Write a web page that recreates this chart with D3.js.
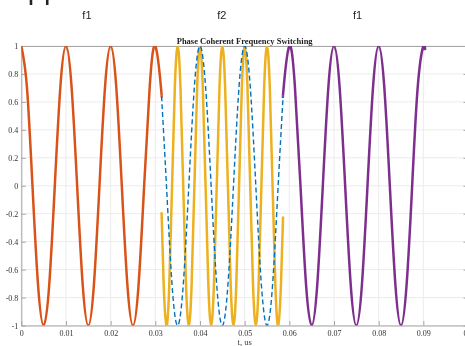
<!DOCTYPE html>
<html>
<head>
<meta charset="utf-8">
<script src="https://cdn.jsdelivr.net/npm/d3@7"></script>
<style>
  body { margin: 0; background: #fff; overflow: hidden; }
  svg { display: block; will-change: transform; }
</style>
</head>
<body>
<svg id="chart" width="465" height="346"></svg>
<script>
// tick values and labels
var xTicks = [0, 0.01, 0.02, 0.03, 0.04, 0.05, 0.06, 0.07, 0.08, 0.09, 0.1];
var xTickLabels = ["0", "0.01", "0.02", "0.03", "0.04", "0.05", "0.06", "0.07", "0.08", "0.09", "0.1"];
var yTicks = [-1, -0.8, -0.6, -0.4, -0.2, 0, 0.2, 0.4, 0.6, 0.8, 1];
var yTickLabels = ["-1", "-0.8", "-0.6", "-0.4", "-0.2", "0", "0.2", "0.4", "0.6", "0.8", "1"];

// segment labels over the plot
var segLabels = ["f1", "f2", "f1"];
var segLabelT = [0.0147, 0.0449, 0.0753];

// f1 before the switch (t, value)
var f1First = [[0, 1], [0.00125, 0.71], [0.0025, 0], [0.00375, -0.71], [0.005, -1], [0.00625, -0.71], [0.0075, 0], [0.00875, 0.71],
  [0.01, 1], [0.01125, 0.71], [0.0125, 0], [0.01375, -0.71], [0.015, -1], [0.01625, -0.71], [0.0175, 0], [0.01875, 0.71],
  [0.02, 1], [0.02125, 0.71], [0.0225, 0], [0.02375, -0.71], [0.025, -1], [0.02625, -0.71], [0.0275, 0], [0.02875, 0.71],
  [0.03, 1], [0.03125, 0.71], [0.0314, 0.64]];

// f2 while switched
var f2Mid = [[0.0314, -0.19], [0.031875, -0.71], [0.0325, -1], [0.033125, -0.71], [0.03375, 0], [0.034375, 0.71],
  [0.035, 1], [0.035625, 0.71], [0.03625, 0], [0.036875, -0.71], [0.0375, -1], [0.038125, -0.71], [0.03875, 0], [0.039375, 0.71],
  [0.04, 1], [0.040625, 0.71], [0.04125, 0], [0.041875, -0.71], [0.0425, -1], [0.043125, -0.71], [0.04375, 0], [0.044375, 0.71],
  [0.045, 1], [0.045625, 0.71], [0.04625, 0], [0.046875, -0.71], [0.0475, -1], [0.048125, -0.71], [0.04875, 0], [0.049375, 0.71],
  [0.05, 1], [0.050625, 0.71], [0.05125, 0], [0.051875, -0.71], [0.0525, -1], [0.053125, -0.71], [0.05375, 0], [0.054375, 0.71],
  [0.055, 1], [0.055625, 0.71], [0.05625, 0], [0.056875, -0.71], [0.0575, -1], [0.058125, -0.71], [0.0586, -0.22]];

// f1 reference kept running (dashed)
var f1Ref = [[0.0314, 0.64], [0.0325, 0], [0.03375, -0.71], [0.035, -1], [0.03625, -0.71], [0.0375, 0], [0.03875, 0.71],
  [0.04, 1], [0.04125, 0.71], [0.0425, 0], [0.04375, -0.71], [0.045, -1], [0.04625, -0.71], [0.0475, 0], [0.04875, 0.71],
  [0.05, 1], [0.05125, 0.71], [0.0525, 0], [0.05375, -0.71], [0.055, -1], [0.05625, -0.71], [0.0575, 0], [0.0586, 0.64]];

// f1 after switching back
var f1Last = [[0.0586, 0.64], [0.05875, 0.71], [0.06, 1], [0.06125, 0.71], [0.0625, 0], [0.06375, -0.71], [0.065, -1], [0.06625, -0.71], [0.0675, 0], [0.06875, 0.71],
  [0.07, 1], [0.07125, 0.71], [0.0725, 0], [0.07375, -0.71], [0.075, -1], [0.07625, -0.71], [0.0775, 0], [0.07875, 0.71],
  [0.08, 1], [0.08125, 0.71], [0.0825, 0], [0.08375, -0.71], [0.085, -1], [0.08625, -0.71], [0.0875, 0], [0.08875, 0.71],
  [0.09, 1], [0.0904, 0.97]];

(function() {
  var svg = d3.select("#chart");
  var pLeft = 21.3, pRight = 468, pTop = 46, pBottom = 325.5;

  var x = d3.scaleLinear().domain([0, 0.1]).range([pLeft, pRight]);
  var y = d3.scaleLinear().domain([-1, 1]).range([pBottom, pTop]);

  // cut-off heading above the figure
  svg.append("text")
    .attr("x", 8.5).attr("y", -1)
    .style("font-family", "'Liberation Sans', Arial, sans-serif")
    .style("font-size", "29px")
    .attr("fill", "#222")
    .text("Approach");

  // segment labels
  svg.selectAll(".seg").data(segLabels).enter().append("text")
    .attr("class", "seg")
    .attr("x", function(d, i) { return x(segLabelT[i]); })
    .attr("y", 19.3)
    .attr("text-anchor", "middle")
    .style("font-family", "'Liberation Sans', Arial, sans-serif")
    .style("font-size", "11px")
    .attr("fill", "#222")
    .text(function(d) { return d; });

  svg.append("defs").append("clipPath").attr("id", "plotclip")
    .append("rect").attr("x", pLeft).attr("y", pTop).attr("width", pRight - pLeft).attr("height", pBottom - pTop);

  // grid
  var grid = svg.append("g").attr("class", "grid");
  grid.selectAll(".gx").data(xTicks).enter().append("line")
    .attr("x1", function(d) { return x(d); }).attr("x2", function(d) { return x(d); })
    .attr("y1", pTop).attr("y2", pBottom)
    .attr("stroke", "#ececec").attr("stroke-width", 1);
  grid.selectAll(".gy").data(yTicks).enter().append("line")
    .attr("x1", pLeft).attr("x2", pRight)
    .attr("y1", function(d) { return y(d); }).attr("y2", function(d) { return y(d); })
    .attr("stroke", "#ececec").attr("stroke-width", 1);

  // axes (ticks inward, box all round)
  var tickFont = "'Liberation Serif', 'Times New Roman', serif";
  var xAxis = svg.append("g").attr("transform", "translate(0," + pBottom + ")")
    .call(d3.axisBottom(x).tickValues(xTicks).tickSizeInner(-4.5).tickSizeOuter(0).tickPadding(5)
      .tickFormat(function(d, i) { return xTickLabels[i]; }));
  var xTop = svg.append("g").attr("transform", "translate(0," + pTop + ")")
    .call(d3.axisTop(x).tickValues(xTicks).tickSizeInner(-4.5).tickSizeOuter(0).tickFormat(""));
  var yAxis = svg.append("g").attr("transform", "translate(" + pLeft + ",0)")
    .call(d3.axisLeft(y).tickValues(yTicks).tickSizeInner(-4.5).tickSizeOuter(0).tickPadding(3)
      .tickFormat(function(d, i) { return yTickLabels[i]; }));
  var yRight = svg.append("g").attr("transform", "translate(" + pRight + ",0)")
    .call(d3.axisRight(y).tickValues(yTicks).tickSizeInner(-4.5).tickSizeOuter(0).tickFormat(""));

  [xAxis, xTop, yAxis, yRight].forEach(function(a) {
    a.select(".domain").attr("stroke", "#a6a6a6").attr("stroke-width", 1);
    a.selectAll(".tick line").attr("stroke", "#a6a6a6");
    a.selectAll(".tick text")
      .style("font-family", tickFont)
      .style("font-size", "8px")
      .attr("fill", "#333");
  });

  // curves
  var line = d3.line()
    .x(function(d) { return x(d[0]); })
    .y(function(d) { return y(d[1]); })
    .curve(d3.curveNatural);

  var plot = svg.append("g").attr("clip-path", "url(#plotclip)");

  plot.append("path").datum(f1First)
    .attr("d", line).attr("fill", "none")
    .attr("stroke", "#D95319").attr("stroke-width", 2.5);

  plot.append("path").datum(f2Mid)
    .attr("d", line).attr("fill", "none")
    .attr("stroke", "#EDB120").attr("stroke-width", 2.5);

  plot.append("path").datum(f1Last)
    .attr("d", line).attr("fill", "none")
    .attr("stroke", "#7E2F8E").attr("stroke-width", 2.5);

  plot.append("path").datum(f1Ref)
    .attr("d", line).attr("fill", "none")
    .attr("stroke", "#0072BD").attr("stroke-width", 1.4)
    .attr("stroke-dasharray", "5,3");

  // title
  svg.append("text")
    .attr("x", (pLeft + pRight) / 2).attr("y", 44.3)
    .attr("text-anchor", "middle")
    .style("font-family", tickFont)
    .style("font-weight", "bold")
    .style("font-size", "8.5px")
    .attr("fill", "#222")
    .text("Phase Coherent Frequency Switching");

  // x label
  svg.append("text")
    .attr("x", (pLeft + pRight) / 2).attr("y", 345.3)
    .attr("text-anchor", "middle")
    .style("font-family", tickFont)
    .style("font-size", "8.5px")
    .attr("fill", "#333")
    .text("t, us");
})();
</script>
</body>
</html>
